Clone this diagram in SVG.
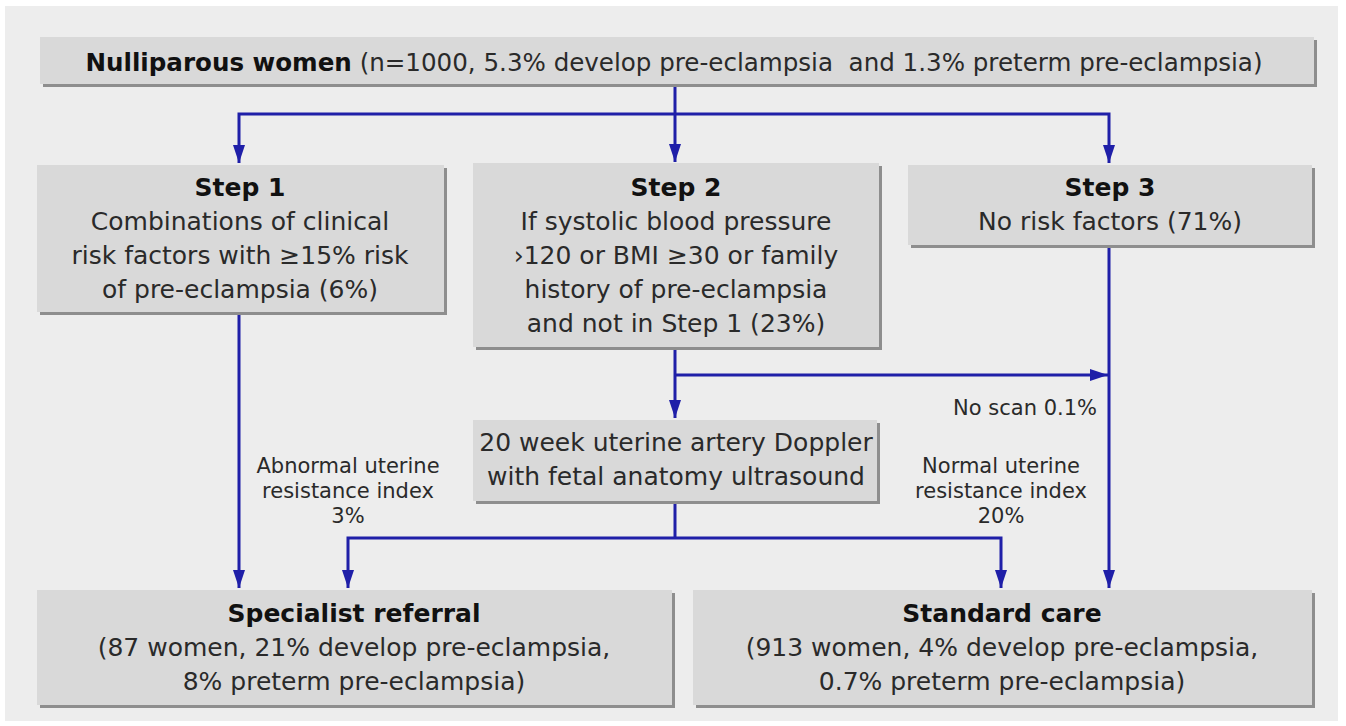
<svg xmlns="http://www.w3.org/2000/svg" width="1346" height="726" viewBox="0 0 1346 726">
<defs>
<style>
.t{font-family:"DejaVu Sans","Liberation Sans",sans-serif;font-size:25px;fill:#2a2a2a;text-anchor:middle}
.b{font-weight:bold;fill:#111}
.l{font-family:"DejaVu Sans","Liberation Sans",sans-serif;font-size:21px;fill:#2a2a2a;text-anchor:middle}
.box{fill:#d9d9d9}
.sh{fill:#8e8e8e}
.c{fill:none;stroke:#1f1fa8;stroke-width:3}
.a{marker-end:url(#ah)}
</style>
<marker id="ah" viewBox="0 0 18 12" refX="18" refY="6" markerWidth="18" markerHeight="12" markerUnits="userSpaceOnUse" orient="auto-start-reverse">
<path d="M0,0 L18,6 L0,12 z" fill="#1f1fa8"/>
</marker>
</defs>
<rect width="1346" height="726" fill="#ffffff"/>
<rect x="5" y="6" width="1333" height="715" fill="#ededed"/>

<g id="connectors">
<path class="c" d="M239,163 V114 H1109 V163" marker-start="url(#ah)" marker-end="url(#ah)"/>
<path class="c a" d="M675,87 V162"/>
<path class="c a" d="M239,315 V588"/>
<path class="c a" d="M675,350 V418"/>
<path class="c a" d="M675,375 H1108"/>
<path class="c a" d="M1109,248 V588"/>
<path class="c" d="M675,504 V538"/>
<path class="c" d="M348,588 V538 H1001 V588" marker-start="url(#ah)" marker-end="url(#ah)"/>
</g>

<g id="n-top">
<rect class="sh" x="43" y="40" width="1274" height="47"/>
<rect class="box" x="40" y="37" width="1274" height="47"/>
<text class="t" x="674" y="71" xml:space="preserve" textLength="1177" lengthAdjust="spacingAndGlyphs"><tspan class="b">Nulliparous women</tspan> (n=1000, 5.3% develop pre-eclampsia  and 1.3% preterm pre-eclampsia)</text>
</g>

<g id="n-step1">
<rect class="sh" x="40" y="168" width="407" height="147"/>
<rect class="box" x="37" y="165" width="407" height="147"/>
<text class="t" x="240" y="196"><tspan class="b">Step 1</tspan></text>
<text class="t" x="240" y="230">Combinations of clinical</text>
<text class="t" x="240" y="264">risk factors with ≥15% risk</text>
<text class="t" x="240" y="298">of pre-eclampsia (6%)</text>
</g>

<g id="n-step2">
<rect class="sh" x="476" y="166" width="406" height="184"/>
<rect class="box" x="473" y="163" width="406" height="184"/>
<text class="t" x="676" y="196"><tspan class="b">Step 2</tspan></text>
<text class="t" x="676" y="230">If systolic blood pressure</text>
<text class="t" x="676" y="264">›120 or BMI ≥30 or family</text>
<text class="t" x="676" y="298">history of pre-eclampsia</text>
<text class="t" x="676" y="332">and not in Step 1 (23%)</text>
</g>

<g id="n-step3">
<rect class="sh" x="911" y="168" width="404" height="80"/>
<rect class="box" x="908" y="165" width="404" height="80"/>
<text class="t" x="1110" y="196"><tspan class="b">Step 3</tspan></text>
<text class="t" x="1110" y="230">No risk factors (71%)</text>
</g>

<g id="n-doppler">
<rect class="sh" x="476" y="423" width="404" height="81"/>
<rect class="box" x="473" y="420" width="404" height="81"/>
<text class="t" x="676" y="451">20 week uterine artery Doppler</text>
<text class="t" x="676" y="485">with fetal anatomy ultrasound</text>
</g>

<g id="labels">
<text class="l" x="348" y="473">Abnormal uterine</text>
<text class="l" x="348" y="498">resistance index</text>
<text class="l" x="348" y="523">3%</text>
<text class="l" x="1001" y="473">Normal uterine</text>
<text class="l" x="1001" y="498">resistance index</text>
<text class="l" x="1001" y="523">20%</text>
<text class="l" x="1097" y="415" style="text-anchor:end">No scan 0.1%</text>
</g>

<g id="n-specialist">
<rect class="sh" x="40" y="593" width="635" height="115"/>
<rect class="box" x="37" y="590" width="635" height="115"/>
<text class="t" x="354" y="622"><tspan class="b">Specialist referral</tspan></text>
<text class="t" x="354" y="656">(87 women, 21% develop pre-eclampsia,</text>
<text class="t" x="354" y="690">8% preterm pre-eclampsia)</text>
</g>

<g id="n-standard">
<rect class="sh" x="696" y="593" width="619" height="115"/>
<rect class="box" x="693" y="590" width="619" height="115"/>
<text class="t" x="1002" y="622"><tspan class="b">Standard care</tspan></text>
<text class="t" x="1002" y="656">(913 women, 4% develop pre-eclampsia,</text>
<text class="t" x="1002" y="690">0.7% preterm pre-eclampsia)</text>
</g>
</svg>
